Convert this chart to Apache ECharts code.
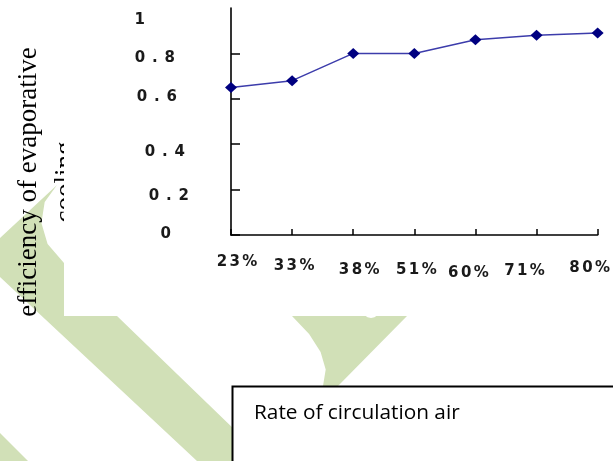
<!DOCTYPE html>
<html>
<head>
<meta charset="utf-8">
<script src="https://cdn.jsdelivr.net/npm/echarts@6/dist/echarts.min.js"></script>
<style>
html,body{margin:0;padding:0;background:#fff;}
#chart{width:613px;height:461px;}
</style>
</head>
<body>
<div id="chart"></div>
<script>
// ---- data ----
const categories = ['23%', '33%', '38%', '51%', '60%', '71%', '80%'];
const efficiency = [0.65, 0.68, 0.80, 0.80, 0.86, 0.88, 0.89];
const yTickValues = [0, 0.2, 0.4, 0.6, 0.8, 1];
const yTitle = 'efficiency of evaporative\ncooling';
const boxText = 'Rate of circulation air';

// ---- style (label offsets to mimic the scanned original) ----
const LABEL_FONT = '"DejaVu Sans"';
const xShift = [[6, 0], [2, 4], [6, 8], [2, 8], [-7, 11], [-12, 9], [-8, 6]]; // [dx, dy]
const yShift = [[18, -1], [0, 6.4], [4, 7.8], [12, -1.5], [14, 4.6], [44, 12]]; // [shiftLeft, dy]
const xGap = 1.2, yGap = 3.4;

function charStyle(pad) {
  return { padding: pad, fontFamily: LABEL_FONT, fontSize: 15, fontWeight: 'bold', color: '#1a1a1a' };
}
const xRich = {};
categories.forEach((c, i) => {
  const [dx, dy] = xShift[i];
  for (let j = 0; j < c.length; j++) {
    const l = xGap + (j === 0 && dx > 0 ? 2 * dx : 0);
    const r = xGap + (j === c.length - 1 && dx < 0 ? -2 * dx : 0);
    xRich['x' + i + '_' + j] = charStyle([dy, r, 0, l]);
  }
});
function yText(v) { return String(Math.round(v * 10) / 10); }
const yRich = {};
yTickValues.forEach((v, k) => {
  const t = yText(v);
  const [sl, dy] = yShift[k];
  const top = dy > 0 ? 2 * dy : 0, bot = dy < 0 ? -2 * dy : 0;
  for (let j = 0; j < t.length; j++) {
    const r = (j === t.length - 1 ? sl : yGap);
    const l = j === 0 ? 0 : yGap;
    yRich['y' + k + '_' + j] = charStyle([top, r, bot, l]);
  }
});

const chart = echarts.init(document.getElementById('chart'), null, { renderer: 'canvas' });
const green = '#d1e0b7';
const option = {
  animation: false,
  backgroundColor: '#ffffff',
  grid: { left: 231, top: 8, width: 373, height: 227, containLabel: false },
  xAxis: {
    type: 'category',
    data: categories,
    boundaryGap: false,
    axisLine: { lineStyle: { color: '#000', width: 1.6 } },
    axisTick: { show: true, inside: true, length: 6, lineStyle: { color: '#000', width: 1.5 } },
    axisLabel: {
      interval: 0, margin: 20,
      formatter: (val, idx) => val.split('').map((ch, j) => '{x' + idx + '_' + j + '|' + ch + '}').join(''),
      rich: xRich
    },
    splitLine: { show: false }
  },
  yAxis: {
    type: 'value',
    min: 0, max: 1, interval: 0.2,
    axisLine: { show: true, lineStyle: { color: '#000', width: 1.6 } },
    axisTick: { show: true, inside: true, length: 9, customValues: yTickValues.slice(0, -1), lineStyle: { color: '#000', width: 1.5 } },
    axisLabel: {
      margin: 42,
      formatter: (val) => {
        const k = Math.round(val / 0.2);
        return yText(val).split('').map((ch, j) => '{y' + k + '_' + j + '|' + ch + '}').join('');
      },
      rich: yRich
    },
    splitLine: { show: false }
  },
  series: [{
    type: 'line',
    data: efficiency,
    symbol: 'diamond',
    symbolSize: [12, 11],
    lineStyle: { color: '#3c3cab', width: 1.5 },
    itemStyle: { color: '#000080' },
    z: 5
  }],
  graphic: [
    { type: 'polygon', z: 0, shape: { points: [[0, 238], [57, 185], [44.7, 202], [41.4, 223], [47.6, 244], [64, 263], [64, 316], [117, 316], [267, 461], [197, 461], [0, 277]] }, style: { fill: green } },
    { type: 'polygon', z: 0, shape: { points: [[292, 316], [407, 316], [338, 386], [323, 386], [325.7, 369.6], [320.6, 352.1], [309.1, 334.1]] }, style: { fill: green } },
    { type: 'circle', z: 1, shape: { cx: 371, cy: 309, r: 9 }, style: { fill: '#fff' } },
    { type: 'polygon', z: 0, shape: { points: [[0, 433], [28, 461], [0, 461]] }, style: { fill: green } },
    { type: 'text', z: 10, x: 47, y: 182, rotation: Math.PI / 2,
      style: { text: yTitle, fontFamily: '"Liberation Serif"', fontSize: 27, lineHeight: 37, fill: '#000', align: 'center', verticalAlign: 'middle' } },
    { type: 'rect', z: 11, shape: { x: 64, y: 120, width: 60, height: 130 }, style: { fill: '#fff' } },
    { type: 'rect', z: 12, shape: { x: 232.5, y: 386.5, width: 420, height: 100 }, style: { fill: '#fff', stroke: '#000', lineWidth: 2 } },
    { type: 'text', z: 13, x: 254, y: 413,
      style: { text: boxText, fontFamily: '"Open Sans"', fontSize: 20.8, fill: '#000', align: 'left', verticalAlign: 'middle' } }
  ]
};
chart.setOption(option);
</script>
</body>
</html>
